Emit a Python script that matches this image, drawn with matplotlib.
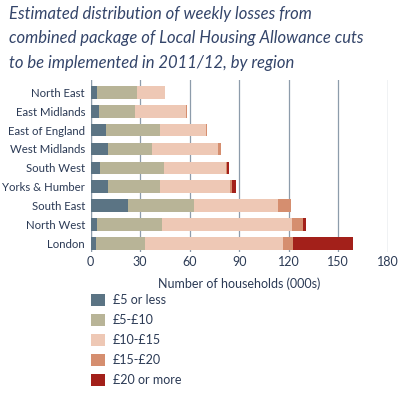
import matplotlib
matplotlib.use("Agg")
import matplotlib.pyplot as plt
import matplotlib.patches as mpatches

regions = ["North East", "East Midlands", "East of England", "West Midlands",
           "South West", "Yorks & Humber", "South East", "North West", "London"]
bands = ["£5 or less", "£5-£10", "£10-£15", "£15-£20", "£20 or more"]

# households (000s) per band
less5 = [4.0, 5.1, 9.3, 10.5, 5.9, 10.5, 22.4, 3.6, 3.2]
b5_10 = [24.1, 21.8, 32.9, 26.7, 38.3, 31.7, 40.2, 39.8, 29.5]
b10_15 = [16.7, 30.9, 27.7, 39.8, 37.8, 42.2, 50.9, 78.8, 83.7]
b15_20 = [0.0, 0.8, 0.8, 2.0, 0.6, 1.5, 7.9, 6.7, 6.2]
more20 = [0.0, 0.0, 0.0, 0.0, 1.0, 2.0, 0.0, 1.6, 36.6]

colors = ["#5b7484", "#b8b497", "#eec8b5", "#d58e6f", "#a3201a"]
text_col = "#2b3a55"
grid_col = "#8d9cab"

plt.rcParams['font.family'] = ['Lato', 'DejaVu Sans']

fig = plt.figure(figsize=(3.99, 4.0), dpi=100)
ax = fig.add_axes([0.227, 0.37, 0.745, 0.43])

series = [less5, b5_10, b10_15, b15_20, more20]
left = [0.0] * len(regions)
for vals, col, lab in zip(series, colors, bands):
    ax.barh(range(len(regions)), vals, left=left, height=0.67, color=col,
            label=lab, zorder=2)
    left = [l + v for l, v in zip(left, vals)]

ax.set_xlim(0, 180)
ax.set_ylim(8.45, -0.65)
ax.set_xticks([0, 30, 60, 90, 120, 150, 180])
ax.set_yticks(range(len(regions)))
ax.set_yticklabels(regions)
ax.tick_params(length=0, labelsize=9, labelcolor=text_col, pad=4)
ax.tick_params(axis='y', labelsize=8.2)
ax.tick_params(axis='x', pad=3)
ax.grid(axis='x', color=grid_col, linewidth=0.9, zorder=0)
for s in ax.spines.values():
    s.set_visible(False)
ax.axvline(0, color=grid_col, linewidth=0.9, zorder=1)
ax.set_xlabel("Number of households (000s)", fontsize=9, color=text_col, labelpad=7)

fig.text(0.022, 0.985, "Estimated distribution of weekly losses from\n"
         "combined package of Local Housing Allowance cuts\n"
         "to be implemented in 2011/12, by region",
         ha='left', va='top', fontsize=12, style='italic', color="#34456a",
         linespacing=1.65)

handles = [mpatches.Patch(facecolor=c, label=b) for c, b in zip(colors, bands)]
fig.legend(handles=handles, loc='upper left', bbox_to_anchor=(0.228, 0.265),
           frameon=False, fontsize=9, handlelength=1.15, handleheight=1.15,
           handletextpad=0.6, labelspacing=0.6, labelcolor=text_col,
           borderaxespad=0, borderpad=0)

fig.savefig("out.png", dpi=100)
